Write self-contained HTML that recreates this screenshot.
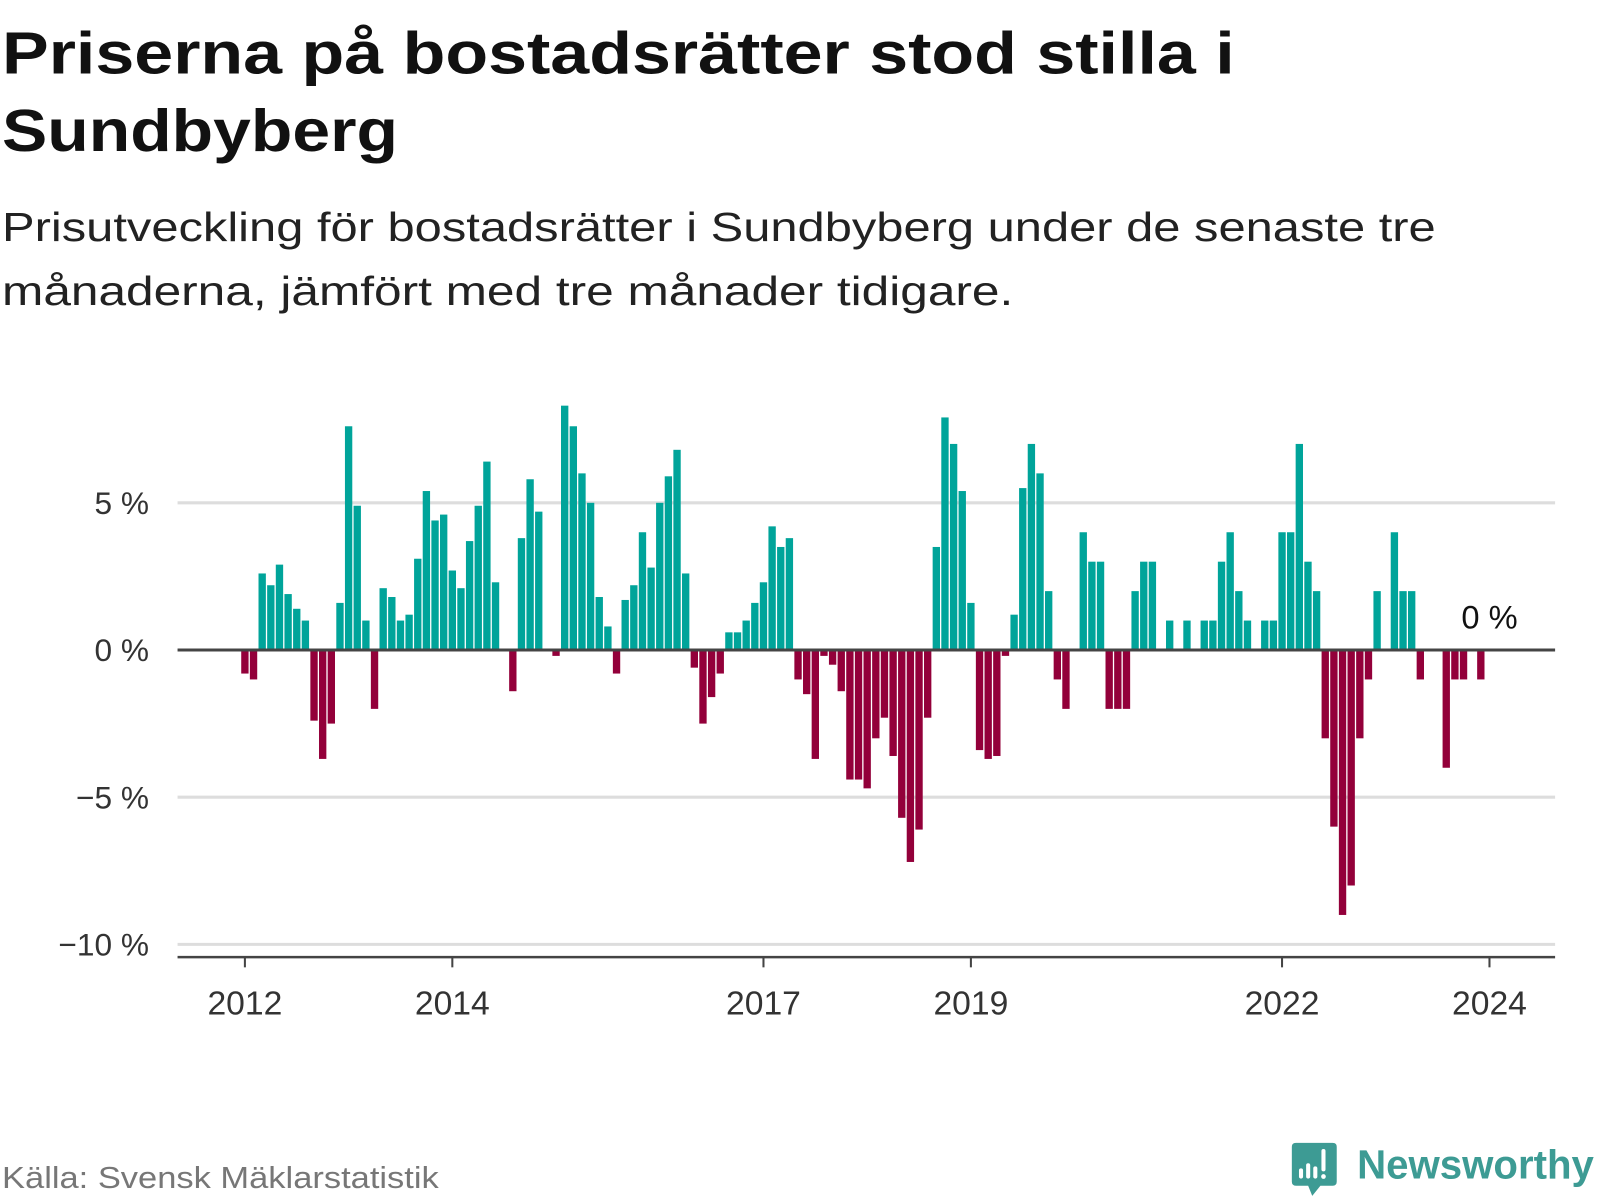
<!DOCTYPE html>
<html><head><meta charset="utf-8"><style>
html,body{margin:0;padding:0;background:#fff;}
svg{display:block;}
text{font-family:"Liberation Sans","DejaVu Sans",sans-serif;}
</style></head><body>
<svg id="chart" width="1600" height="1200" viewBox="0 0 1568 1176" xmlns="http://www.w3.org/2000/svg">
<rect width="1568" height="1176" fill="#fff"/>
<text x="2" y="72" font-size="58" font-weight="bold" fill="#111" textLength="1208" lengthAdjust="spacingAndGlyphs">Priserna på bostadsrätter stod stilla i</text>
<text x="2" y="148" font-size="58" font-weight="bold" fill="#111" textLength="388" lengthAdjust="spacingAndGlyphs">Sundbyberg</text>
<text x="2" y="236" font-size="40" fill="#222" textLength="1405" lengthAdjust="spacingAndGlyphs">Prisutveckling för bostadsrätter i Sundbyberg under de senaste tre</text>
<text x="2" y="299" font-size="40" fill="#222" textLength="991" lengthAdjust="spacingAndGlyphs">månaderna, jämfört med tre månader tidigare.</text>
<g id="grid"></g>
<g id="bars"></g>
<g id="axes"></g>
<text x="2" y="1164" font-size="30" fill="#777" textLength="428" lengthAdjust="spacingAndGlyphs">Källa: Svensk Mäklarstatistik</text>
<g>
<path d="M1266 1124 q0 -4 4 -4 h36 q4 0 4 4 v34 q0 4 -4 4 h-12 l-8 10 l-4 -10 h-12 q-4 0 -4 -4 z" fill="#3d9b94"/>
<rect x="1273" y="1145" width="4" height="10" rx="2" fill="#fff"/>
<rect x="1280" y="1140" width="4" height="15" rx="2" fill="#fff"/>
<rect x="1287" y="1143" width="4" height="12" rx="2" fill="#fff"/>
<rect x="1295" y="1126" width="4" height="22" rx="2" fill="#fff"/>
<circle cx="1297" cy="1153" r="2.3" fill="#fff"/>
<text x="1330" y="1155" font-size="40" font-weight="bold" fill="#3d9b94" textLength="232" lengthAdjust="spacingAndGlyphs">Newsworthy</text>
</g>
</svg>
<script>
const values = [-0.8,-1.0,2.6,2.2,2.9,1.9,1.4,1.0,-2.4,-3.7,-2.5,1.6,
7.6,4.9,1.0,-2.0,2.1,1.8,1.0,1.2,3.1,5.4,4.4,4.6,
2.7,2.1,3.7,4.9,6.4,2.3,0,-1.4,3.8,5.8,4.7,0,
-0.2,8.3,7.6,6.0,5.0,1.8,0.8,-0.8,1.7,2.2,4.0,2.8,
5.0,5.9,6.8,2.6,-0.6,-2.5,-1.6,-0.8,0.6,0.6,1.0,1.6,
2.3,4.2,3.5,3.8,-1.0,-1.5,-3.7,-0.2,-0.5,-1.4,-4.4,-4.4,
-4.7,-3.0,-2.3,-3.6,-5.7,-7.2,-6.1,-2.3,3.5,7.9,7.0,5.4,
1.6,-3.4,-3.7,-3.6,-0.2,1.2,5.5,7.0,6.0,2.0,-1.0,-2.0,
0,4.0,3.0,3.0,-2.0,-2.0,-2.0,2.0,3.0,3.0,0,1.0,
0,1.0,0,1.0,1.0,3.0,4.0,2.0,1.0,0,1.0,1.0,
4.0,4.0,7.0,3.0,2.0,-3.0,-6.0,-9.0,-8.0,-3.0,-1.0,2.0,
0,4.0,2.0,2.0,-1.0,0,0,-4.0,-1.0,-1.0,0,-1.0,0];
const yTicks = [5,0,-5,-10];
const yTickLabels = ["5 %","0 %","\u22125 %","\u221210 %"];
const xTickIndex = [0,24,60,84,120,144];
const xTickLabels = ["2012","2014","2017","2019","2022","2024"];
const lastLabel = "0 %";

const NS="http://www.w3.org/2000/svg";
const x0=240, dx=8.47, y0=637, dy=28.85, bw=7.2;
const xs=i=>x0+i*dx;
const ys=v=>y0-v*dy;
function mk(tag,attrs,parent){const e=document.createElementNS(NS,tag);for(const k in attrs)e.setAttribute(k,attrs[k]);parent.appendChild(e);return e;}
const grid=document.getElementById('grid'),bars=document.getElementById('bars'),axes=document.getElementById('axes');
yTicks.forEach((t,i)=>{
  if(t!==0){const l=mk('line',{x1:174,x2:1524,y1:ys(t),y2:ys(t),stroke:'#dddddd','stroke-width':3},grid);
  
  }
  const tx=mk('text',{x:146,y:ys(t)+11,'font-size':31,'text-anchor':'end',fill:'#333'},axes);
  tx.textContent=yTickLabels[i];
  
  
});
values.forEach((v,i)=>{
  if(v===0)return;
  const top=Math.min(ys(v),y0), h=Math.abs(ys(v)-y0);
  const r=mk('rect',{x:xs(i)-bw/2,y:top,width:bw,height:h,fill:v>0?'#00a49a':'#93003a'},bars);
  
  
});
const zl=mk('line',{x1:174,x2:1524,y1:y0,y2:y0,stroke:'#444','stroke-width':3},axes);


const xa=mk('line',{x1:174,x2:1524,y1:938,y2:938,stroke:'#444','stroke-width':2.5},axes);


xTickIndex.forEach((ix,i)=>{
  const tk=mk('line',{x1:xs(ix),x2:xs(ix),y1:938,y2:948,stroke:'#444','stroke-width':2},axes);
  
  
  const t=mk('text',{x:xs(ix),y:994,'font-size':33,'text-anchor':'middle',fill:'#333'},axes);
  t.textContent=xTickLabels[i];
  
  
});
const li=values.length-1;
const lab=mk('text',{x:xs(li),y:ys(values[li])-21,'font-size':32,'text-anchor':'middle',fill:'#111'},axes);
lab.textContent=lastLabel;


</script>
</body></html>
